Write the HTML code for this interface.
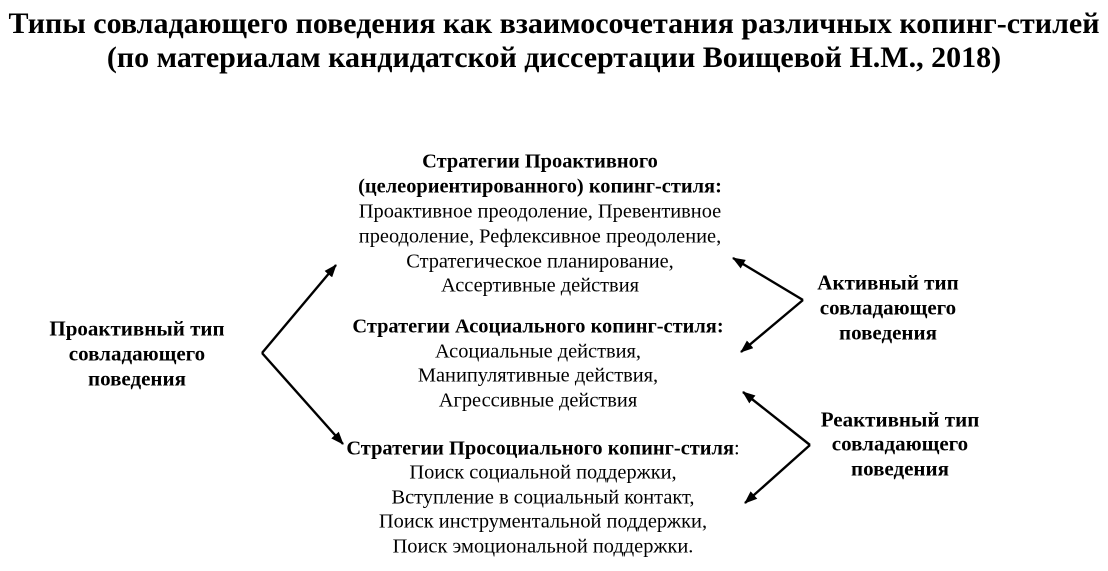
<!DOCTYPE html>
<html><head><meta charset="utf-8"><style>
body{margin:0;width:1108px;height:571px;background:#fff;position:relative;font-family:"Liberation Serif",serif;color:#000;overflow:hidden}
.t{position:absolute;white-space:nowrap;transform:translate(-50%,-50%);font-size:20.4px}
.b{font-weight:bold}
.h{font-size:30px;font-weight:bold}
.l{font-size:21px;font-weight:bold}
</style></head><body>
<div class="t h" style="left:554px;top:24px">Типы совладающего поведения как взаимосочетания различных копинг-стилей</div>
<div class="t h" style="left:554px;top:58px">(по материалам кандидатской диссертации Воищевой Н.М., 2018)</div>

<div class="t b" style="left:540px;top:162px">Стратегии Проактивного</div>
<div class="t b" style="left:540px;top:187px">(целеориентированного) копинг-стиля:</div>
<div class="t" style="left:540px;top:212px">Проактивное преодоление, Превентивное</div>
<div class="t" style="left:540px;top:237px">преодоление, Рефлексивное преодоление,</div>
<div class="t" style="left:540px;top:262px">Стратегическое планирование,</div>
<div class="t" style="left:540px;top:286px">Ассертивные действия</div>

<div class="t b" style="left:538px;top:327px">Стратегии Асоциального копинг-стиля:</div>
<div class="t" style="left:538px;top:352px">Асоциальные действия,</div>
<div class="t" style="left:538px;top:376px">Манипулятивные действия,</div>
<div class="t" style="left:538px;top:401px">Агрессивные действия</div>

<div class="t" style="left:543px;top:449px"><b>Стратегии Просоциального копинг-стиля</b>:</div>
<div class="t" style="left:543px;top:473px">Поиск социальной поддержки,</div>
<div class="t" style="left:543px;top:498px">Вступление в социальный контакт,</div>
<div class="t" style="left:543px;top:522px">Поиск инструментальной поддержки,</div>
<div class="t" style="left:543px;top:547px">Поиск эмоциональной поддержки.</div>

<div class="t l" style="left:137px;top:329px">Проактивный тип</div>
<div class="t l" style="left:137px;top:354px">совладающего</div>
<div class="t l" style="left:137px;top:379px">поведения</div>

<div class="t l" style="left:888px;top:283px">Активный тип</div>
<div class="t l" style="left:888px;top:308px">совладающего</div>
<div class="t l" style="left:888px;top:333px">поведения</div>

<div class="t l" style="left:900px;top:420px">Реактивный тип</div>
<div class="t l" style="left:900px;top:444px">совладающего</div>
<div class="t l" style="left:900px;top:469px">поведения</div>

<svg width="1108" height="571" style="position:absolute;left:0;top:0">
<defs><marker id="a" markerWidth="13" markerHeight="10" refX="12" refY="5" orient="auto" markerUnits="userSpaceOnUse"><path d="M0,0L13,5L0,10z" fill="#000"/></marker></defs>
<g stroke="#000" stroke-width="2.4" fill="none" marker-end="url(#a)">
<path d="M262,353L336,265"/><path d="M262,353L343,444"/>
<path d="M803,300L733,258"/><path d="M803,300L741,352"/>
<path d="M810,445L743,392"/><path d="M810,445L745,503"/>
</g></svg>
</body></html>
